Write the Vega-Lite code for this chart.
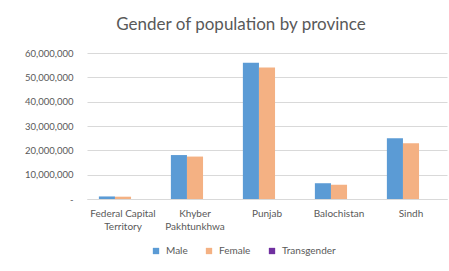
{
  "$schema": "https://vega.github.io/schema/vega-lite/v6.json",
  "width": 360,
  "height": 146,
  "autosize": {"type": "none"},
  "padding": {"left": 87, "top": 53, "right": 2, "bottom": 72},
  "background": "white",
  "title": {
    "text": "Gender of population by province",
    "font": "Lato",
    "fontSize": 17,
    "fontWeight": "normal",
    "color": "#595959",
    "anchor": "middle",
    "dx": -26,
    "offset": 14
  },
  "data": {
    "values": [
      {"province": "Federal Capital Territory", "gender": "Male", "population": 1050000},
      {"province": "Federal Capital Territory", "gender": "Female", "population": 950000},
      {"province": "Federal Capital Territory", "gender": "Transgender", "population": 133},
      {"province": "Khyber Pakhtunkhwa", "gender": "Male", "population": 18060000},
      {"province": "Khyber Pakhtunkhwa", "gender": "Female", "population": 17440000},
      {"province": "Khyber Pakhtunkhwa", "gender": "Transgender", "population": 913},
      {"province": "Punjab", "gender": "Male", "population": 55960000},
      {"province": "Punjab", "gender": "Female", "population": 53990000},
      {"province": "Punjab", "gender": "Transgender", "population": 6709},
      {"province": "Balochistan", "gender": "Male", "population": 6480000},
      {"province": "Balochistan", "gender": "Female", "population": 5860000},
      {"province": "Balochistan", "gender": "Transgender", "population": 109},
      {"province": "Sindh", "gender": "Male", "population": 24930000},
      {"province": "Sindh", "gender": "Female", "population": 22950000},
      {"province": "Sindh", "gender": "Transgender", "population": 2527}
    ]
  },
  "mark": {"type": "bar"},
  "encoding": {
    "x": {
      "field": "province",
      "type": "nominal",
      "sort": ["Federal Capital Territory", "Khyber Pakhtunkhwa", "Punjab", "Balochistan", "Sindh"],
      "scale": {"paddingInner": 0.33, "paddingOuter": 0.165},
      "axis": {
        "title": null,
        "labelAngle": 0,
        "ticks": false,
        "domainColor": "#d9d9d9",
        "labelColor": "#595959",
        "labelFont": "Lato",
        "labelFontSize": 10,
        "labelPadding": 9,
        "labelLineHeight": 13,
        "labelExpr": "datum.label == 'Federal Capital Territory' ? ['Federal Capital', 'Territory'] : datum.label == 'Khyber Pakhtunkhwa' ? ['Khyber', 'Pakhtunkhwa'] : datum.label"
      }
    },
    "xOffset": {
      "field": "gender",
      "type": "nominal",
      "sort": ["Male", "Female", "Transgender"],
      "scale": {"paddingInner": 0, "paddingOuter": 0}
    },
    "y": {
      "field": "population",
      "type": "quantitative",
      "scale": {"domain": [0, 60000000]},
      "axis": {
        "title": null,
        "values": [0, 10000000, 20000000, 30000000, 40000000, 50000000, 60000000],
        "domain": false,
        "ticks": false,
        "gridColor": "#d9d9d9",
        "labelColor": "#595959",
        "labelFont": "Lato",
        "labelFontSize": 9.5,
        "labelPadding": 14,
        "labelExpr": "datum.value == 0 ? '-     ' : format(datum.value, ',')"
      }
    },
    "color": {
      "field": "gender",
      "type": "nominal",
      "scale": {
        "domain": ["Male", "Female", "Transgender"],
        "range": ["#5B9BD5", "#F4B183", "#7030A0"]
      },
      "legend": {
        "title": null,
        "orient": "none",
        "direction": "horizontal",
        "legendX": 64,
        "legendY": 193,
        "symbolType": "square",
        "symbolSize": 40,
        "symbolStrokeWidth": 0,
        "labelColor": "#595959",
        "labelFont": "Lato",
        "labelFontSize": 10,
        "columnPadding": 16,
        "labelOffset": 5
      }
    }
  },
  "config": {
    "view": {"stroke": null}
  }
}
